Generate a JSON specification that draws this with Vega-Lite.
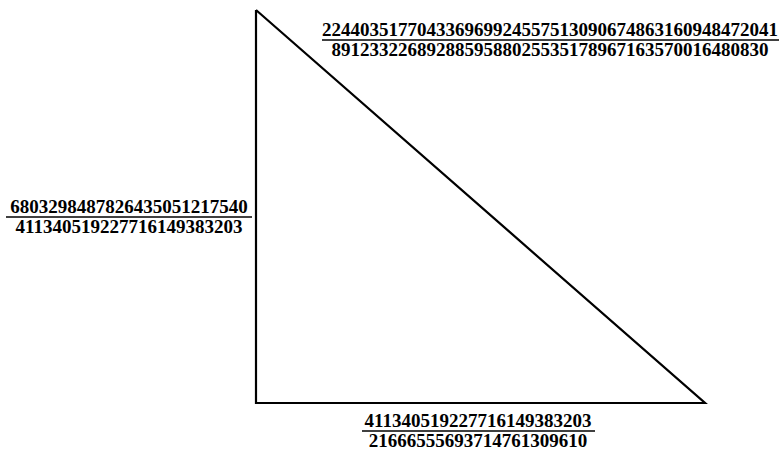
{
  "$schema": "https://vega.github.io/schema/vega-lite/v6.json",
  "width": 784,
  "height": 452,
  "padding": 0,
  "autosize": {"type": "fit", "contains": "padding"},
  "background": "white",
  "config": {"view": {"stroke": null}},
  "datasets": {
    "triangle": [
      {"px": 256, "py": 10, "k": 0},
      {"px": 256, "py": 403, "k": 1},
      {"px": 705, "py": 403, "k": 2},
      {"px": 256, "py": 10, "k": 3}
    ],
    "labels": [
      {"px": 550, "py": 30, "t": "224403517704336969924557513090674863160948472041"},
      {"px": 550, "py": 50, "t": "8912332268928859588025535178967163570016480830"},
      {"px": 129, "py": 207, "t": "6803298487826435051217540"},
      {"px": 129, "py": 227, "t": "411340519227716149383203"},
      {"px": 478, "py": 421, "t": "411340519227716149383203"},
      {"px": 478, "py": 441, "t": "21666555693714761309610"}
    ],
    "bars": [
      {"px": 322, "px2": 779, "py": 40},
      {"px": 6, "px2": 252, "py": 217},
      {"px": 362, "px2": 595, "py": 431}
    ]
  },
  "encoding": {},
  "layer": [
    {
      "data": {"name": "triangle"},
      "mark": {"type": "line", "color": "black", "strokeWidth": 2.2, "strokeJoin": "miter"},
      "encoding": {
        "x": {"field": "px", "type": "quantitative", "scale": {"domain": [0, 784]}, "axis": null},
        "y": {"field": "py", "type": "quantitative", "scale": {"domain": [452, 0]}, "axis": null},
        "order": {"field": "k"}
      }
    },
    {
      "data": {"name": "bars"},
      "mark": {"type": "rule", "color": "black", "strokeWidth": 1.3},
      "encoding": {
        "x": {"field": "px", "type": "quantitative", "scale": {"domain": [0, 784]}, "axis": null},
        "x2": {"field": "px2"},
        "y": {"field": "py", "type": "quantitative", "scale": {"domain": [452, 0]}, "axis": null}
      }
    },
    {
      "data": {"name": "labels"},
      "mark": {"type": "text", "font": "Liberation Serif", "fontSize": 19, "fontWeight": "bold", "baseline": "middle", "align": "center", "color": "black"},
      "encoding": {
        "x": {"field": "px", "type": "quantitative", "scale": {"domain": [0, 784]}, "axis": null},
        "y": {"field": "py", "type": "quantitative", "scale": {"domain": [452, 0]}, "axis": null},
        "text": {"field": "t"}
      }
    }
  ]
}
